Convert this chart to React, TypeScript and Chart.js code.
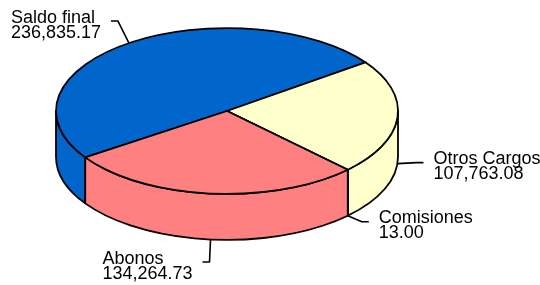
import React, { useEffect, useRef } from "react";
import { Chart, registerables } from "chart.js";

Chart.register(...registerables);

// ---- data ----
const categories: string[] = ["Saldo final", "Otros Cargos", "Comisiones", "Abonos"];
const values: number[] = [236835.17, 107763.08, 13.0, 134264.73];
const colors: string[] = ["#0066CC", "#FFFFCC", "#99CC66", "#FF8080"];

// label leader elbow offsets (relative to the slice anchor), one per slice
const leaderOffsets: [number, number][] = [
  [-11, -22],
  [19, -1],
  [14, 6],
  [-1, 22.5],
];

const fmt = (v: number) =>
  v.toLocaleString("en-US", { minimumFractionDigits: 2, maximumFractionDigits: 2 });

const pie3d = {
  id: "pie3d",
  beforeDatasetsDraw(chart: any, _args: any, opts: any) {
    const meta = chart.getDatasetMeta(0);
    const arcs = meta.data as any[];
    if (!arcs.length) return false;
    const ctx: CanvasRenderingContext2D = chart.ctx;
    const tilt: number = opts.tilt;
    const depth: number = opts.depth;
    const cx: number = arcs[0].x;
    const cy: number = arcs[0].y;
    const rx: number = arcs[0].outerRadius;
    const ry = rx * tilt;
    const bg = chart.data.datasets[0].backgroundColor as string[];
    const TWO_PI = Math.PI * 2;

    ctx.save();
    ctx.lineWidth = 1.8;
    ctx.strokeStyle = "#000";
    ctx.lineJoin = "round";

    // side walls (front half only)
    arcs.forEach((arc, i) => {
      const a1 = arc.startAngle;
      const a2 = arc.endAngle;
      for (let k = -2; k <= 2; k++) {
        const s = Math.max(a1, k * TWO_PI);
        const e = Math.min(a2, k * TWO_PI + Math.PI);
        if (e > s) {
          ctx.beginPath();
          ctx.ellipse(cx, cy, rx, ry, 0, s, e, false);
          ctx.ellipse(cx, cy + depth, rx, ry, 0, e, s, true);
          ctx.closePath();
          ctx.fillStyle = bg[i];
          ctx.fill();
          ctx.stroke();
        }
      }
    });

    // top faces
    arcs.forEach((arc, i) => {
      ctx.beginPath();
      ctx.moveTo(cx, cy);
      ctx.ellipse(cx, cy, rx, ry, 0, arc.startAngle, arc.endAngle, false);
      ctx.closePath();
      ctx.fillStyle = bg[i];
      ctx.fill();
      ctx.stroke();
    });

    // labels with leader lines
    ctx.lineWidth = 1.6;
    ctx.font = "18px 'Liberation Sans', Arial, sans-serif";
    ctx.fillStyle = "#000";
    ctx.textBaseline = "alphabetic";
    ctx.textAlign = "left";
    arcs.forEach((arc, i) => {
      const mid = (arc.startAngle + arc.endAngle) / 2;
      const front = Math.sin(mid) > 0;
      const ax = cx + rx * Math.cos(mid);
      const ay = cy + ry * Math.sin(mid) + (front ? depth : 0);
      const [ox, oy] = leaderOffsets[i];
      const ex = ax + ox;
      const ey = ay + oy;
      const right = Math.cos(mid) >= 0;
      const hx = ex + (right ? 7 : -7);
      ctx.beginPath();
      ctx.moveTo(ax, ay);
      ctx.lineTo(ex, ey);
      ctx.lineTo(hx, ey);
      ctx.stroke();
      const l1 = String(chart.data.labels[i]);
      const l2 = fmt(chart.data.datasets[0].data[i]);
      const w = Math.max(ctx.measureText(l1).width, ctx.measureText(l2).width);
      const tx = right ? hx + 10 : hx - 10 - w;
      ctx.fillText(l1, tx, ey + 1.5);
      ctx.fillText(l2, tx, ey + 16.5);
    });

    ctx.restore();
    return false;
  },
};

export default function App() {
  const ref = useRef<HTMLCanvasElement | null>(null);
  useEffect(() => {
    if (!ref.current) return;
    const chart = new Chart(ref.current, {
      type: "pie",
      data: {
        labels: categories,
        datasets: [
          {
            data: values,
            backgroundColor: colors,
            borderWidth: 0,
          },
        ],
      },
      options: {
        responsive: false,
        animation: false,
        radius: 171,
        rotation: 236,
        layout: { padding: { left: 0, right: 86, top: 0, bottom: 63 } },
        plugins: {
          legend: { display: false },
          tooltip: { enabled: false },
          pie3d: { tilt: 0.485, depth: 46 },
        },
      } as any,
      plugins: [pie3d as any],
    });
    return () => chart.destroy();
  }, []);
  return (
    <div style={{ position: "absolute", left: 0, top: 0, width: 540, height: 285, background: "#fff" }}>
      <canvas ref={ref} width={540} height={285} />
    </div>
  );
}
